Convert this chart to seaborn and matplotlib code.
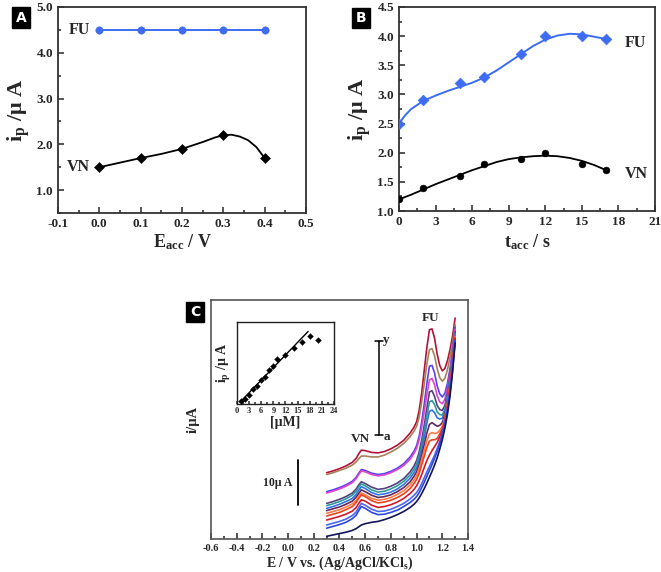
import matplotlib
matplotlib.use("Agg")
import matplotlib.pyplot as plt
import seaborn as sns
from matplotlib.ticker import MultipleLocator, NullLocator

sns.set_style("ticks")
plt.rcParams['font.family'] = ['Liberation Serif', 'DejaVu Serif']
plt.rcParams['font.weight'] = 'bold'
plt.rcParams['mathtext.fontset'] = 'custom'
plt.rcParams['mathtext.rm'] = 'Liberation Serif'
plt.rcParams['mathtext.bf'] = 'Liberation Serif:bold'
plt.rcParams['mathtext.it'] = 'Liberation Serif:italic:bold'

BLUE = "#3d6cf2"

# Panel A: accumulation potential
a_e = [0.0, 0.1, 0.2, 0.3, 0.4]
a_fu = [4.5, 4.5, 4.5, 4.5, 4.5]
a_vn = [1.5, 1.7, 1.9, 2.2, 1.7]
# fitted VN curve
a_fit_e = [0.0, 0.05, 0.1, 0.15, 0.2, 0.25, 0.28, 0.3, 0.32, 0.34, 0.36, 0.38, 0.4]
a_fit_vn = [1.5, 1.6, 1.7, 1.79, 1.9, 2.05, 2.15, 2.2, 2.21, 2.17, 2.09, 1.94, 1.7]

# Panel B: accumulation time
b_t = [0, 2, 5, 7, 10, 12, 15, 17]
b_fu = [2.5, 2.9, 3.2, 3.3, 3.7, 4.0, 4.0, 3.95]
b_vn = [1.2, 1.4, 1.6, 1.8, 1.9, 2.0, 1.8, 1.7]
# fitted curves
b_fit_t = [0, 0.5, 1, 2, 3, 4, 5, 6, 7, 8, 9, 10, 11, 12, 13, 14, 15, 16, 17]
b_fit_fu = [2.5, 2.64, 2.75, 2.89, 2.98, 3.06, 3.13, 3.2, 3.29, 3.41, 3.55, 3.69, 3.83, 3.94, 4.01, 4.04, 4.03, 3.99, 3.95]
b_fit_vn = [1.2, 1.24, 1.28, 1.37, 1.46, 1.54, 1.62, 1.7, 1.77, 1.84, 1.89, 1.92, 1.94, 1.95, 1.94, 1.91, 1.86, 1.79, 1.7]

# Panel C: voltammograms, curves y..a (top = highest concentration)
c_e = [0.30, 0.35, 0.40, 0.45, 0.50, 0.53, 0.55, 0.57, 0.60, 0.65,
       0.70, 0.75, 0.80, 0.85, 0.90, 0.95, 0.98, 1.00, 1.02, 1.04,
       1.06, 1.08, 1.10, 1.12, 1.14, 1.16, 1.18, 1.20, 1.22, 1.24,
       1.26, 1.28, 1.30]
c_curves = [
    [14.7, 15.1, 15.6, 16.2, 17.0, 17.9, 18.9, 19.7, 19.6, 19.2, 19.1, 19.4, 20.0, 20.8, 21.9, 23.5, 24.8,
     26.0, 28.5, 32.5, 37.5, 42.5, 46.4, 46.6, 44.5, 41.0, 38.5, 37.3, 37.8, 39.5, 42.0, 45.0, 49.0],
    [14.3, 14.7, 15.2, 15.7, 16.4, 17.1, 17.8, 18.4, 18.4, 18.2, 18.2, 18.6, 19.3, 20.1, 21.2, 22.7, 23.9,
     25.0, 27.0, 30.5, 34.5, 38.8, 42.0, 42.2, 40.6, 37.8, 35.8, 35.0, 35.6, 37.5, 40.3, 43.5, 47.5],
    [10.5, 10.9, 11.4, 12.0, 12.8, 13.7, 14.6, 15.4, 15.2, 14.6, 14.3, 14.5, 15.0, 15.7, 16.7, 18.2, 19.5,
     20.7, 22.8, 26.0, 30.0, 34.5, 38.3, 38.5, 36.8, 34.0, 32.2, 31.5, 32.3, 34.5, 37.8, 41.8, 47.0],
    [10.2, 10.6, 11.1, 11.7, 12.5, 13.4, 14.3, 15.1, 14.9, 14.3, 14.0, 14.2, 14.7, 15.4, 16.3, 17.7, 19.0,
     20.1, 22.0, 24.8, 28.3, 32.0, 35.3, 35.6, 34.2, 31.8, 30.4, 30.0, 31.0, 33.4, 36.8, 41.2, 46.5],
    [7.9, 8.3, 8.8, 9.4, 10.2, 11.1, 12.0, 12.7, 12.3, 11.5, 11.0, 11.2, 11.7, 12.4, 13.4, 14.9, 16.2,
     17.4, 19.3, 22.0, 25.3, 29.0, 32.6, 32.9, 31.6, 29.6, 28.7, 28.5, 29.6, 32.3, 36.0, 40.6, 46.0],
    [7.4, 7.8, 8.3, 8.9, 9.7, 10.6, 11.5, 12.2, 11.8, 10.9, 10.4, 10.6, 11.1, 11.8, 12.8, 14.2, 15.5,
     16.6, 18.4, 20.8, 24.0, 27.3, 30.4, 30.7, 29.8, 28.2, 27.6, 27.5, 28.8, 31.6, 35.4, 40.2, 45.5],
    [6.8, 7.2, 7.7, 8.3, 9.0, 9.9, 10.8, 11.6, 11.2, 10.3, 9.8, 10.0, 10.4, 11.1, 12.1, 13.5, 14.7,
     15.8, 17.5, 19.8, 22.6, 25.7, 28.3, 28.6, 28.0, 26.9, 26.6, 26.8, 28.2, 31.1, 35.0, 40.0, 45.5],
    [6.3, 6.7, 7.1, 7.7, 8.4, 9.3, 10.1, 10.9, 10.5, 9.7, 9.2, 9.4, 9.8, 10.5, 11.4, 12.7, 13.9,
     14.9, 16.5, 18.6, 21.0, 23.5, 25.4, 25.8, 25.4, 25.0, 25.2, 25.8, 27.5, 30.6, 34.6, 39.6, 45.0],
    [5.7, 6.1, 6.5, 7.1, 7.8, 8.6, 9.5, 10.2, 9.8, 9.0, 8.6, 8.8, 9.2, 9.9, 10.7, 12.0, 13.1,
     14.1, 15.6, 17.6, 19.7, 21.8, 23.3, 23.6, 23.4, 23.5, 24.1, 25.0, 26.9, 30.1, 34.2, 39.3, 45.0],
    [5.1, 5.5, 5.9, 6.5, 7.2, 8.1, 9.0, 9.8, 9.4, 8.5, 8.0, 8.2, 8.6, 9.2, 10.0, 11.2, 12.3,
     13.2, 14.6, 16.5, 18.4, 20.3, 21.7, 22.0, 22.0, 22.3, 23.3, 24.5, 26.4, 29.6, 33.8, 38.9, 44.5],
    [4.2, 4.6, 5.0, 5.5, 6.2, 7.0, 7.9, 8.7, 8.4, 7.5, 7.0, 7.2, 7.6, 8.2, 9.0, 10.1, 11.0,
     11.8, 12.9, 14.3, 15.9, 17.4, 18.6, 19.6, 20.5, 21.4, 22.6, 24.0, 26.0, 29.1, 33.2, 38.4, 44.5],
    [3.1, 3.5, 3.9, 4.4, 5.2, 6.0, 7.0, 7.9, 7.5, 6.6, 6.1, 6.2, 6.6, 7.2, 7.9, 8.9, 9.7,
     10.3, 11.2, 12.3, 13.6, 14.9, 16.1, 17.3, 18.6, 20.0, 21.6, 23.5, 25.8, 28.8, 32.8, 37.9, 44.0],
    [2.4, 2.8, 3.2, 3.7, 4.5, 5.3, 6.3, 7.2, 6.8, 5.9, 5.4, 5.5, 5.9, 6.4, 7.2, 8.1, 8.8,
     9.4, 10.3, 11.4, 12.6, 13.9, 15.2, 16.5, 17.9, 19.4, 21.1, 23.0, 25.3, 28.3, 32.4, 37.5, 44.0],
    [0.6, 0.9, 1.2, 1.5, 1.9, 2.3, 2.7, 3.1, 3.4, 3.7, 3.9, 4.3, 4.8, 5.4, 6.1, 7.0, 7.7,
     8.3, 9.1, 10.1, 11.2, 12.4, 13.7, 15.0, 16.4, 18.0, 19.9, 22.0, 24.5, 27.6, 31.7, 37.0, 43.5],
]
c_colors = ["#b3123a", "#a8805a", "#5a40ee", "#e045cc", "#55407c", "#2e9a9a", "#3372e6",
            "#62285c", "#ff7a45", "#e8421e", "#d4182a", "#4a66f2", "#2c48e0", "#14145a"]

# Inset: calibration
ins_c = [1, 2, 3, 4, 5, 6, 7, 8, 9, 10, 12, 14, 16, 18, 20]
ins_i = [0.2, 0.44, 0.92, 1.6, 2.0, 2.72, 3.04, 3.92, 4.4, 5.32, 5.8, 6.6, 7.4, 8.04, 7.64]
ins_fit_c = [0.8, 17.6]
ins_fit_i = [0.05, 8.65]

fig = plt.figure(figsize=(6.61, 5.72), dpi=100)


def style_axes(ax, lw=1.3, color="#333333"):
    for s in ax.spines.values():
        s.set_linewidth(lw)
        s.set_color(color)
    ax.tick_params(which="both", direction="in", top=False, right=False, width=1.1)
    ax.tick_params(which="major", length=4)
    ax.tick_params(which="minor", length=2.5)


def panel_tag(x, y, s):
    fig.text(x / 661, 1 - y / 572, s, color="white", family="DejaVu Sans", fontsize=10,
             ha="center", va="center",
             bbox=dict(boxstyle="square,pad=0.25", fc="black", ec="black"))


# ---- A
axA = fig.add_axes([0.0877, 0.6276, 0.3752, 0.3602])
sns.lineplot(x=a_e, y=a_fu, color=BLUE, lw=1.4, ax=axA)
sns.scatterplot(x=a_e, y=a_fu, color=BLUE, marker="o", s=28, edgecolor=BLUE, ax=axA, zorder=3)
sns.lineplot(x=a_fit_e, y=a_fit_vn, color="black", lw=1.3, ax=axA)
sns.scatterplot(x=a_e, y=a_vn, color="black", marker="D", s=26, edgecolor="black", ax=axA, zorder=3)
axA.set_xlim(-0.1, 0.5)
axA.set_ylim(0.5, 5.0)
axA.xaxis.set_major_locator(MultipleLocator(0.1))
axA.xaxis.set_minor_locator(MultipleLocator(0.05))
axA.set_yticks([1, 2, 3, 4, 5])
axA.yaxis.set_minor_locator(MultipleLocator(0.5))
axA.set_xticklabels([f"{v:.1f}" for v in axA.get_xticks()])
axA.set_yticklabels([f"{v:.1f}" for v in axA.get_yticks()])
axA.tick_params(labelsize=9.5)
axA.set_xlabel(r"E$_{\mathbf{acc}}$ / V", fontsize=13, fontweight="bold", labelpad=2)
axA.set_ylabel(r"$\mathbf{i_p}$ /μ A", fontsize=16, fontweight="bold", labelpad=3)
axA.text(-0.022, 4.5, "FU", fontsize=11.5, fontweight="bold", ha="right", va="center")
axA.text(-0.022, 1.5, "VN", fontsize=11.5, fontweight="bold", ha="right", va="center")
style_axes(axA)
panel_tag(21, 17.5, "A")

# ---- B
axB = fig.add_axes([0.6036, 0.6311, 0.3873, 0.3567])
sns.lineplot(x=b_fit_t, y=b_fit_fu, color=BLUE, lw=1.4, ax=axB)
sns.scatterplot(x=b_t, y=b_fu, color=BLUE, marker="D", s=30, edgecolor=BLUE, ax=axB, zorder=3)
sns.lineplot(x=b_fit_t, y=b_fit_vn, color="black", lw=1.3, ax=axB)
sns.scatterplot(x=b_t, y=b_vn, color="black", marker="o", s=24, edgecolor="black", ax=axB, zorder=3)
axB.set_xlim(0, 21)
axB.set_ylim(1.0, 4.5)
axB.xaxis.set_major_locator(MultipleLocator(3))
axB.xaxis.set_minor_locator(MultipleLocator(1.5))
axB.yaxis.set_major_locator(MultipleLocator(0.5))
axB.yaxis.set_minor_locator(MultipleLocator(0.25))
axB.set_yticklabels([f"{v:.1f}" for v in axB.get_yticks()])
axB.tick_params(labelsize=9.5)
axB.set_xlabel(r"t$_{\mathbf{acc}}$ / s", fontsize=13, fontweight="bold", labelpad=3)
axB.set_ylabel(r"$\mathbf{i_p}$ /μ A", fontsize=16, fontweight="bold", labelpad=3)
axB.text(18.5, 3.88, "FU", fontsize=11.5, fontweight="bold", ha="left", va="center")
axB.text(18.5, 1.64, "VN", fontsize=11.5, fontweight="bold", ha="left", va="center")
style_axes(axB)
panel_tag(361, 18, "B")

# ---- C
axC = fig.add_axes([0.3192, 0.0577, 0.3888, 0.4178])
for curve, col in zip(c_curves, c_colors):
    sns.lineplot(x=c_e, y=curve, color=col, lw=1.2, ax=axC)
axC.set_xlim(-0.6, 1.4)
axC.set_ylim(0, 53)
axC.xaxis.set_major_locator(MultipleLocator(0.2))
axC.xaxis.set_minor_locator(MultipleLocator(0.1))
axC.yaxis.set_major_locator(NullLocator())
axC.set_xticklabels([f"{v:.1f}" for v in axC.get_xticks()])
axC.tick_params(labelsize=7.5)
axC.set_xlabel(r"E / V vs. (Ag/AgCl/KCl$_\mathbf{s}$)", fontsize=10, fontweight="bold", labelpad=1)
axC.set_ylabel("i/μA", fontsize=10.5, fontweight="bold", labelpad=8)
axC.text(1.11, 47.6, "FU", fontsize=9.5, fontweight="bold", ha="center", va="bottom")
axC.text(0.56, 20.8, "VN", fontsize=9.5, fontweight="bold", ha="center", va="bottom")
# 10 uA scale bar and a -> y bar
axC.plot([0.079, 0.079], [7.6, 17.6], color="black", lw=1.3)
axC.text(-0.08, 12.4, "10μ A", fontsize=8.5, fontweight="bold", ha="center", va="center")
axC.plot([0.707, 0.707], [23.1, 43.8], color="black", lw=1.1)
axC.plot([0.68, 0.735], [43.8, 43.8], color="black", lw=1.1)
axC.plot([0.68, 0.735], [23.1, 23.1], color="black", lw=1.1)
axC.text(0.74, 44.2, "y", fontsize=9.5, fontweight="bold", ha="left", va="center")
axC.text(0.74, 22.6, "a", fontsize=9.5, fontweight="bold", ha="left", va="center")
style_axes(axC, lw=1.2, color="#555555")
panel_tag(195, 312, "C")

# ---- inset
axI = fig.add_axes([0.3585, 0.2937, 0.1468, 0.1433])
sns.lineplot(x=ins_fit_c, y=ins_fit_i, color="black", lw=1.0, ax=axI)
sns.scatterplot(x=ins_c, y=ins_i, color="black", marker="D", s=9, edgecolor="black", ax=axI, zorder=3)
axI.set_xlim(0, 24)
axI.set_ylim(-0.2, 9.8)
axI.xaxis.set_major_locator(MultipleLocator(3))
axI.xaxis.set_minor_locator(MultipleLocator(1.5))
axI.yaxis.set_major_locator(NullLocator())
axI.tick_params(labelsize=6, pad=2)
axI.set_xlabel("[μM]", fontsize=10, fontweight="bold", labelpad=1)
axI.set_ylabel(r"$\mathbf{i_p}$ /μ A", fontsize=10, fontweight="bold", labelpad=3)
style_axes(axI, lw=1.0, color="#222222")
axI.tick_params(which="major", length=2.5)
axI.tick_params(which="minor", length=1.5)

fig.savefig("out.png", dpi=100)
